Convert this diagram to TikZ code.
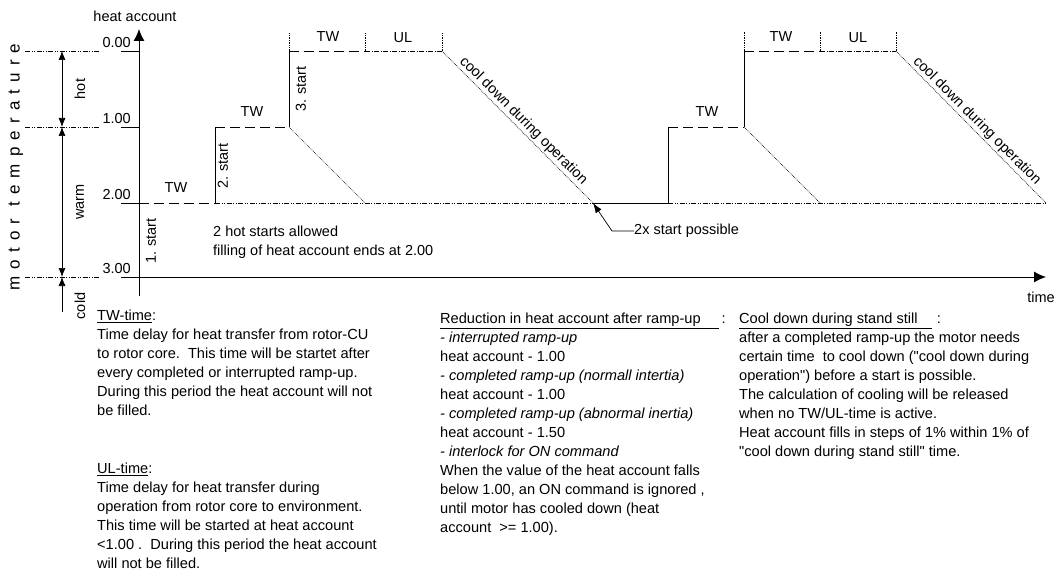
\documentclass[tikz,border=0pt]{standalone}
\usepackage{fontspec}
\setmainfont{Liberation Sans}
\usetikzlibrary{arrows.meta,calc}
\begin{document}
\begin{tikzpicture}[x=1pt,y=-1pt,
  every node/.style={font=\fontsize{14.5}{19}\selectfont, inner sep=0pt},
  ln/.style={line width=0.9pt},
  dsh/.style={line width=0.9pt, dash pattern=on 10pt off 5pt},
  dd/.style={line width=0.6pt, dash pattern=on 5pt off 1.5pt on 1pt off 1.5pt},
  ddd/.style={line width=0.6pt, dash pattern=on 5pt off 1.5pt on 1pt off 1.5pt on 1pt off 1.5pt},
  dotl/.style={line width=0.7pt, densely dotted},
  dim/.style={line width=0.7pt},
  tip/.style={-{Latex[length=9pt,width=7pt]}},
  ax/.style={line width=0.9pt, -{Latex[length=12pt,width=11pt]}},
  vlab/.style={rotate=90},
  txt/.style={align=left, anchor=north west},
  body/.style={align=left, anchor=north west, font=\fontsize{14.6}{19}\selectfont}
]
\useasboundingbox (0,0) rectangle (1055,572);

% axes
\coordinate (yb) at (139,296);
\coordinate (yt) at (139,29);
\coordinate (xa) at (121,277);
\coordinate (xb) at (1046,277);
\draw[ax] (yb) -- (yt);
\draw[ax] (xa) -- (xb);
\node (ha) at (135,16) {heat account};
\node (tm) at (1041,297) {time};

% ticks and value labels
\foreach \yy in {51,127,203}{
  \coordinate (tk\yy) at (121,\yy);
  \coordinate (tr\yy) at (139,\yy);
  \draw[ln] (tk\yy) -- (tr\yy);
}
\node[anchor=east] (v0) at (131,43) {0.00};
\node[anchor=east] (v1) at (131,119) {1.00};
\node[anchor=east] (v2) at (131,195) {2.00};
\node[anchor=east] (v3) at (131,269) {3.00};

% left temperature bands
\foreach \yy in {51,127,277}{
  \coordinate (la\yy) at (25,\yy);
  \coordinate (lb\yy) at (100,\yy);
  \draw[ddd] (la\yy) -- (lb\yy);
}
\coordinate (d0) at (62,51);
\coordinate (d1) at (62,127);
\coordinate (d3) at (62,277);
\coordinate (d4) at (62,312);
\draw[dim,{Latex[length=9pt,width=7pt]}-{Latex[length=9pt,width=7pt]}] (d0) -- (d1);
\draw[dim,{Latex[length=9pt,width=7pt]}-{Latex[length=9pt,width=7pt]}] (d1) -- (d3);
\draw[dim,tip] (d4) -- (d3);
\node[vlab] (hot) at (80,89) {hot};
\node[vlab] (warm) at (80,202) {warm};
\node[vlab] (cold) at (80,306) {cold};
\node[rotate=90, font=\fontsize{17}{20}\selectfont\addfontfeature{LetterSpace=42}] (mt) at (16,167) {motor temperature};

% plot
\coordinate (p1) at (139,203);
\coordinate (p2) at (215,203);
\coordinate (p3) at (215,127);
\coordinate (p4) at (289,127);
\coordinate (p5) at (289,51);
\coordinate (p6) at (365,51);
\coordinate (p7) at (442,51);
\coordinate (p8) at (365,203);
\coordinate (p9) at (593,203);
\coordinate (p10) at (668,203);
\coordinate (p11) at (668,127);
\coordinate (p12) at (744,127);
\coordinate (p13) at (744,51);
\coordinate (p14) at (820,51);
\coordinate (p15) at (896,51);
\coordinate (p16) at (820,203);
\coordinate (p17) at (1046,203);
\coordinate (q5) at (289,33);
\coordinate (q6) at (365,33);
\coordinate (q7) at (442,33);
\coordinate (q13) at (744,31);
\coordinate (q14) at (820,31);
\coordinate (q15) at (896,31);

\draw[dsh] (p1) -- (p2);
\draw[ln] (p2) -- (p3);
\draw[dsh] (p3) -- (p4);
\draw[ln] (p4) -- (p5);
\draw[dsh] (p5) -- (p6);
\draw[dd] (p6) -- (p7);
\draw[dotl] (p5) -- (q5) (p6) -- (q6) (p7) -- (q7);
\draw[dotl] (p4) -- (p8);
\draw[dotl] (p7) -- (p9);
\draw[ddd] (p2) -- (p9);
\draw[ln] (p9) -- (p10);
\draw[ln] (p10) -- (p11);
\draw[dsh] (p11) -- (p12);
\draw[ln] (p12) -- (p13);
\draw[dsh] (p13) -- (p14);
\draw[dd] (p14) -- (p15);
\draw[dotl] (p13) -- (q13) (p14) -- (q14) (p15) -- (q15);
\draw[dotl] (p12) -- (p16);
\draw[dotl] (p15) -- (p17);
\draw[ddd] (p10) -- (p17);

% labels on plot
\node (tw1) at (176,188) {TW};
\node (tw2) at (252,112) {TW};
\node (tw3) at (328,37) {TW};
\node (ul1) at (403,38) {UL};
\node (tw4) at (707,112) {TW};
\node (tw5) at (781,37) {TW};
\node (ul2) at (858,38) {UL};
\node[vlab] (s1) at (151,241) {1. start};
\node[vlab] (s2) at (223,166) {2. start};
\node[vlab] (s3) at (301,89) {3. start};
\node[rotate=-45, anchor=south] (cd1) at ($(p7)!0.5!(p9)+(1,-1)$) {cool down during operation};
\node[rotate=-45, anchor=south] (cd2) at ($(p15)!0.5!(p17)+(1,-1)$) {cool down during operation};
\node[txt] (hs) at (213,226) {2 hot starts allowed\\filling of heat account ends at 2.00};
\node[anchor=west] (x2) at (634,231) {2x start possible};
\coordinate (bend) at (612,231);
\draw[line width=0.7pt,-{Latex[length=10pt,width=7pt]}] (x2.west) -- (bend) -- (p9);

% text blocks
\node[body] (twt) at (97,310) {\underline{TW-time}:\\
Time delay for heat transfer from rotor-CU\\
to rotor core.\ \ This time will be startet after\\
every completed or interrupted ramp-up.\\
During this period the heat account will not\\
be filled.};
\node[body] (ult) at (97,463) {\underline{UL-time}:\\
Time delay for heat transfer during\\
operation from rotor core to environment.\\
This time will be started at heat account\\
<1.00 .\ \ During this period the heat account\\
will not be filled.};
\node[body] (red) at (440,313) {\underline{Reduction in heat account after ramp-up\hspace{18pt}}\hspace{3pt}:\\
\textit{- interrupted ramp-up}\\
heat account - 1.00\\
\textit{- completed ramp-up (normall intertia)}\\
heat account - 1.00\\
\textit{- completed ramp-up (abnormal inertia)}\\
heat account - 1.50\\
\textit{- interlock for ON command}\\
When the value of the heat account falls\\
below 1.00, an ON command is ignored ,\\
until motor has cooled down (heat\\
account\ \ >= 1.00).};
\node[body] (cds) at (739,313) {\underline{Cool down during stand still\hspace{14pt}}\hspace{5pt}:\\
after a completed ramp-up the motor needs\\
certain time\ \ to cool down (\textquotedbl cool down during\\
operation\textquotedbl) before a start is possible.\\
The calculation of cooling will be released\\
when no TW/UL-time is active.\\
Heat account fills in steps of 1\% within 1\% of\\
\textquotedbl cool down during stand still\textquotedbl\ time.};
\end{tikzpicture}
\end{document}
